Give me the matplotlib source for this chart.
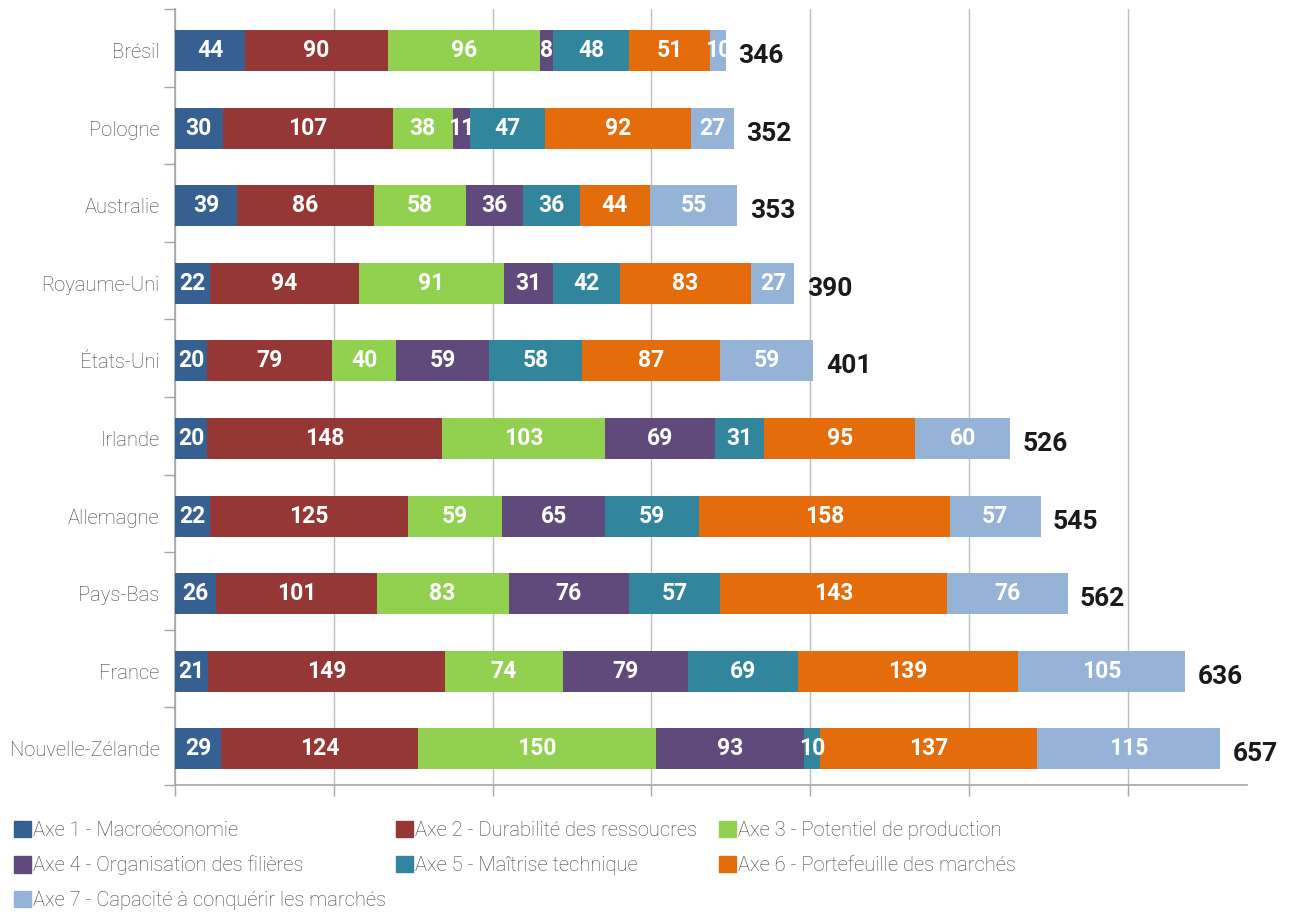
import numpy as np
import matplotlib.pyplot as plt
from matplotlib.patches import Patch

pays = ['Brésil', 'Pologne', 'Australie', 'Royaume-Uni', 'États-Uni',
        'Irlande', 'Allemagne', 'Pays-Bas', 'France', 'Nouvelle-Zélande']

axe1 = [44, 30, 39, 22, 20, 20, 22, 26, 21, 29]
axe2 = [90, 107, 86, 94, 79, 148, 125, 101, 149, 124]
axe3 = [96, 38, 58, 91, 40, 103, 59, 83, 74, 150]
axe4 = [8, 11, 36, 31, 59, 69, 65, 76, 79, 93]
axe5 = [48, 47, 36, 42, 58, 31, 59, 57, 69, 10]
axe6 = [51, 92, 44, 83, 87, 95, 158, 143, 139, 137]
axe7 = [10, 27, 55, 27, 59, 60, 57, 76, 105, 115]
totaux = [346, 352, 353, 390, 401, 526, 545, 562, 636, 657]

noms = ['Axe 1 - Macroéconomie',
        'Axe 2 - Durabilité des ressoucres',
        'Axe 3 - Potentiel de production',
        'Axe 4 - Organisation des filières',
        'Axe 5 - Maîtrise technique',
        'Axe 6 - Portefeuille des marchés',
        'Axe 7 - Capacité à conquérir les marchés']
couleurs = ['#376092', '#953735', '#92D050', '#604A7B',
            '#31859C', '#E46C0A', '#95B3D7']

police = 'Roboto'
gris_txt = '#404040'
gris_axe = '#A6A6A6'

W, H = 1295, 913
fig = plt.figure(figsize=(W / 100, H / 100), dpi=100)
ax = fig.add_axes([175 / W, 1 - 785 / H, (1247 - 175) / W, (785 - 9) / H])

series = [axe1, axe2, axe3, axe4, axe5, axe6, axe7]
y = np.arange(len(pays))
yb = y + 0.035  # barres légèrement sous le centre de la catégorie
gauche = np.zeros(len(pays))
for vals, c, nom in zip(series, couleurs, noms):
    vals = np.array(vals)
    ax.barh(yb, vals, left=gauche, height=0.53, color=c, label=nom, zorder=3)
    for yi, g, v in zip(yb, gauche, vals):
        ax.text(g + v / 2, yi, str(v), ha='center', va='center',
                color='white', fontsize=16.5, fontweight='bold',
                family=police, zorder=4)
    gauche = gauche + vals

# totaux à droite des barres
for yi, g, t in zip(yb, gauche, totaux):
    ax.annotate(str(t), (g, yi), xytext=(9, -4), textcoords='offset points',
                ha='left', va='center', fontsize=19, fontweight='bold',
                color='#1a1a1a', family=police)

ax.set_xlim(0, 675)
ax.set_ylim(len(pays) - 0.5, -0.5)

ax.set_xticks(np.arange(0, 700, 100))
ax.set_xticklabels([])
ax.tick_params(axis='x', length=8, color=gris_axe, width=1)
ax.grid(axis='x', color='#BFBFBF', linewidth=1, zorder=0)

ax.set_yticks(yb)
ax.set_yticklabels(pays, fontsize=14.5, color=gris_txt, family=police,
                   fontweight='light')
ax.tick_params(axis='y', which='major', length=0, pad=11)
ax.set_yticks(np.arange(-0.5, len(pays)), minor=True)
ax.tick_params(axis='y', which='minor', length=8, color=gris_axe, width=1)

for s in ['top', 'right']:
    ax.spines[s].set_visible(False)
for s in ['left', 'bottom']:
    ax.spines[s].set_color(gris_axe)
    ax.spines[s].set_linewidth(1.2)

# légende en trois colonnes, remplie ligne par ligne
colonnes = [[0, 3, 6], [1, 4], [2, 5]]
x_col = [14, 396, 719]
for idx, xc in zip(colonnes, x_col):
    poignees = [Patch(color=couleurs[i], label=noms[i]) for i in idx]
    fig.legend(handles=poignees, loc='upper left',
               bbox_to_anchor=(xc / W, 1 - 821 / H), frameon=False,
               prop={'family': police, 'size': 14.5, 'weight': 'light'},
               labelcolor=gris_txt, handlelength=0.85, handleheight=0.85,
               handletextpad=0.1, labelspacing=0.78, borderaxespad=0,
               borderpad=0)

fig.savefig('out.png', dpi=100)
